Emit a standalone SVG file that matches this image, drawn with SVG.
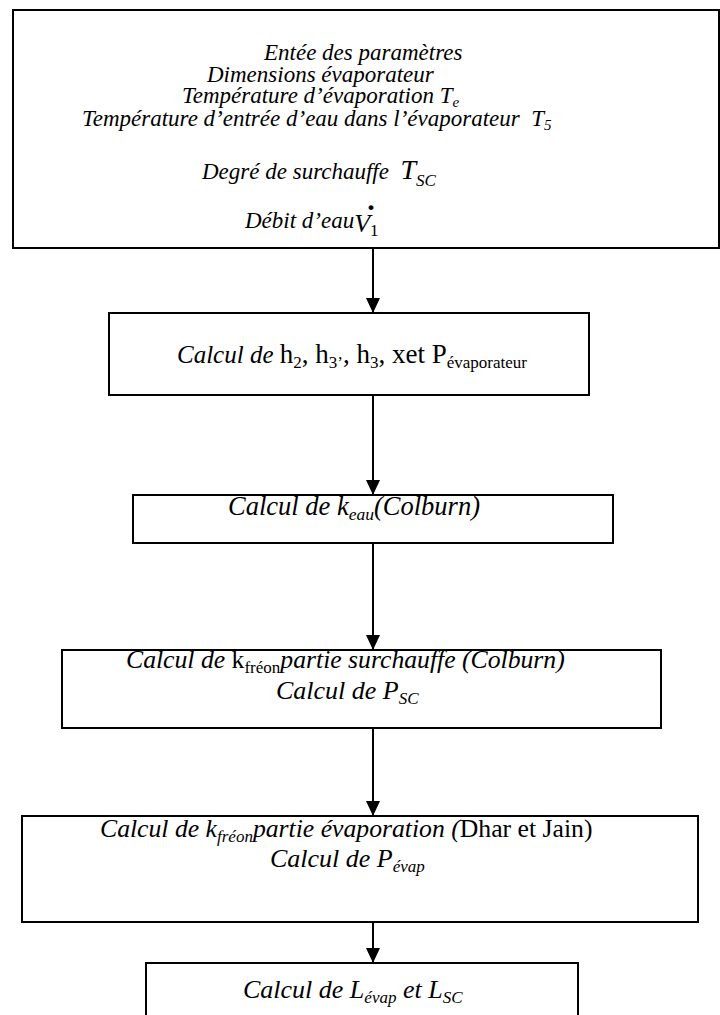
<svg xmlns="http://www.w3.org/2000/svg" width="720" height="1015" viewBox="0 0 720 1015">
<style>
.box{fill:#fff;stroke:#000;stroke-width:2}
.t{font-family:"Liberation Serif","Times New Roman",serif;fill:#000}
.i{font-style:italic}
.u{font-style:normal}
.conn{stroke:#000;stroke-width:2;fill:none}
</style>
<defs>
<marker id="ah" viewBox="0 0 15 14" refX="15" refY="7" markerWidth="15" markerHeight="14" orient="auto" markerUnits="userSpaceOnUse">
<path d="M0,0 L15,7 L0,14 z" fill="#000"/>
</marker>
</defs>
<rect width="720" height="1015" fill="#fff"/>
<g id="node-entree">
<rect class="box" x="13" y="10" width="706" height="238"/>
<text class="t i" font-size="23" x="264" y="60">Entée des paramètres</text>
<text class="t i" font-size="23" x="207" y="82">Dimensions évaporateur</text>
<text class="t i" font-size="23" x="182" y="103">Température d’évaporation T<tspan font-size="15" dy="4">e</tspan></text>
<text class="t i" font-size="23" x="82" y="126">Température d’entrée d’eau dans l’évaporateur &#160;T<tspan font-size="15" dy="4">5</tspan></text>
<text class="t i" font-size="23" x="202" y="179">Degré de surchauffe &#160;<tspan font-size="28">T</tspan><tspan font-size="17" dy="7">SC</tspan></text>
<text class="t i" font-size="23" x="245" y="228">Débit d’eau<tspan font-size="26" dy="4">V</tspan><tspan class="u" font-size="17" dy="4">1</tspan></text>
<text class="t" font-size="30" font-weight="bold" x="371" y="210" text-anchor="middle">.</text>
</g>
<g id="node-h">
<rect class="box" x="109" y="313" width="480" height="82"/>
<text class="t" font-size="27" x="177" y="363"><tspan class="i" font-size="25">Calcul de </tspan>h<tspan font-size="17" dy="5">2</tspan><tspan dy="-5">, h</tspan><tspan font-size="17" dy="5">3’</tspan><tspan dy="-5">, h</tspan><tspan font-size="17" dy="5">3</tspan><tspan dy="-5">, xet P</tspan><tspan font-size="17" dy="5">évaporateur</tspan></text>
</g>
<g id="node-keau">
<rect class="box" x="133" y="495" width="480" height="48"/>
<text class="t i" font-size="26.5" x="228" y="515">Calcul de k<tspan font-size="17.5" dy="5">eau</tspan><tspan dy="-5">(Colburn)</tspan></text>
</g>
<g id="node-kfreon-sc">
<rect class="box" x="62" y="650" width="599" height="78"/>
<text class="t i" font-size="25.7" x="126" y="668">Calcul de <tspan class="u">k</tspan><tspan class="u" font-size="17" dy="5">fréon</tspan><tspan dy="-5">partie surchauffe (Colburn)</tspan></text>
<text class="t i" font-size="26" x="276" y="699">Calcul de P<tspan font-size="17" dy="5">SC</tspan></text>
</g>
<g id="node-kfreon-evap">
<rect class="box" x="22" y="816" width="676" height="106"/>
<text class="t i" font-size="25.7" x="100" y="837">Calcul de k<tspan font-size="17" dy="5">fréon</tspan><tspan dy="-5">partie évaporation (</tspan><tspan class="u">Dhar et Jain)</tspan></text>
<text class="t i" font-size="26" x="270" y="867">Calcul de P<tspan font-size="17" dy="5">évap</tspan></text>
</g>
<g id="node-longueurs">
<rect class="box" x="146" y="963" width="432" height="60"/>
<text class="t i" font-size="26" x="243" y="998">Calcul de L<tspan font-size="17" dy="5">évap</tspan><tspan dy="-5"> et L</tspan><tspan font-size="17" dy="5">SC</tspan></text>
</g>
<g id="connectors">
<line class="conn" x1="373" y1="249" x2="373" y2="313" marker-end="url(#ah)"/>
<line class="conn" x1="373" y1="396" x2="373" y2="495" marker-end="url(#ah)"/>
<line class="conn" x1="373" y1="544" x2="373" y2="650" marker-end="url(#ah)"/>
<line class="conn" x1="373" y1="729" x2="373" y2="816" marker-end="url(#ah)"/>
<line class="conn" x1="373" y1="923" x2="373" y2="963" marker-end="url(#ah)"/>
</g>
</svg>
